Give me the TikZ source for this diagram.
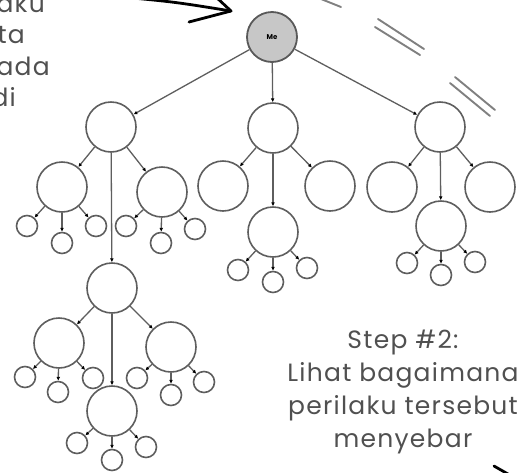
\documentclass[tikz,border=0pt]{standalone}
\usepackage{fontspec}
\setmainfont{Poppins}
\usetikzlibrary{arrows.meta,positioning}
\definecolor{inkgray}{HTML}{505050}
\definecolor{linegray}{HTML}{5E5E5E}

\begin{document}
\begin{tikzpicture}[
    x=1pt, y=-1pt,
    big/.style={
        circle,
        draw=linegray,
        line width=1.6pt,
        minimum size=50pt,
        inner sep=0pt,
        fill=white
    },
    leaf/.style={
        circle,
        draw=linegray,
        line width=1.6pt,
        minimum size=21pt,
        inner sep=0pt,
        fill=white
    },
    rootnode/.style={
        circle,
        draw=black!65,
        line width=1.8pt,
        minimum size=50pt,
        inner sep=0pt,
        fill=black!22,
        font=\bfseries\fontsize{7}{8}\selectfont
    },
    note/.style={
        font=\fontsize{25}{33}\selectfont\addfontfeature{LetterSpace=5},
        text=inkgray,
        align=center,
        inner sep=0pt
    },
    edge/.style={-{Latex[length=3.8pt,width=3.8pt,color=black]}, line width=1.3pt, draw=linegray},
    hatch/.style={line width=1.9pt, draw=black!50, line cap=round}
]
\useasboundingbox (0,0) rectangle (519,472);

% root and first level
\node[rootnode] (me) at (272,37) {Me};
\node[big] (left) at (111,127) {};
\node[big] (mid) at (273,128) {};
\node[big] (right) at (440,127) {};

% left branch
\node[big] (ll) at (62,187) {};
\node[big] (lr) at (162,192) {};
\node[big] (lm) at (112,288) {};
\node[big] (lml) at (59,343) {};
\node[big] (lmr) at (171,347) {};
\node[big] (lmm) at (112,411) {};

% middle branch
\node[big] (ml) at (223,186) {};
\node[big] (mm) at (273,232) {};
\node[big] (mr) at (330,186) {};

% right branch
\node[big] (rl) at (392,187) {};
\node[big] (rm) at (441,226) {};
\node[big] (rr) at (490,187) {};

% leaves
\node[leaf] (ll1) at (27,226) {};
\node[leaf] (ll2) at (62,243) {};
\node[leaf] (ll3) at (96,226) {};
\node[leaf] (lr1) at (126,226) {};
\node[leaf] (lr2) at (161,243) {};
\node[leaf] (lr3) at (195,229) {};
\node[leaf] (lml1) at (25,377) {};
\node[leaf] (lml2) at (58,392) {};
\node[leaf] (lml3) at (93,378) {};
\node[leaf] (lmr1) at (137,378) {};
\node[leaf] (lmr2) at (171,395) {};
\node[leaf] (lmr3) at (204,382) {};
\node[leaf] (lmm1) at (77,443) {};
\node[leaf] (lmm2) at (112,460) {};
\node[leaf] (lmm3) at (146,447) {};
\node[leaf] (mm1) at (238,270) {};
\node[leaf] (mm2) at (273,282) {};
\node[leaf] (mm3) at (307,268) {};
\node[leaf] (rm1) at (407,263) {};
\node[leaf] (rm2) at (441,275) {};
\node[leaf] (rm3) at (475,262) {};

\draw[edge] (me) -- (left);
\draw[edge] (me) -- (mid);
\draw[edge] (me) -- (right);
\draw[edge] (left) -- (ll);
\draw[edge] (left) -- (lm);
\draw[edge] (left) -- (lr);
\draw[edge] (lm) -- (lml);
\draw[edge] (lm) -- (lmm);
\draw[edge] (lm) -- (lmr);
\draw[edge] (mid) -- (ml);
\draw[edge] (mid) -- (mm);
\draw[edge] (mid) -- (mr);
\draw[edge] (right) -- (rl);
\draw[edge] (right) -- (rm);
\draw[edge] (right) -- (rr);
\foreach \p in {ll,lr,lml,lmr,lmm,mm,rm}
    \foreach \i in {1,2,3}
        \draw[edge] (\p) -- (\p\i);

% text
\node[note, anchor=base east] (t1) at (45,12) {aku};
\node[note, anchor=base east] (t2) at (25,43) {ta};
\node[note, anchor=base east] (t3) at (50,75) {pada};
\node[note, anchor=base east] (t4) at (16,106) {di};
\node[note] (step) at (403,392) {Step \#2:\\Lihat bagaimana\\perilaku tersebut\\menyebar};

% hand arrow and marks
\coordinate (arrstart) at (122,-3);
\coordinate (arrtip) at (231,11);
\draw[line width=2.8pt, line cap=round, line join=round] (arrstart) .. controls (175,2) .. (arrtip);
\draw[line width=2.8pt, line cap=round, line join=round] (216,-3) -- (arrtip) -- (189,22);
\draw[line width=2.8pt, line cap=round] (494,466) -- (508,474);
\draw[hatch] (321,-1) -- (341,7);
\draw[hatch] (378,19) -- (424,49);
\draw[hatch] (375,27) -- (420,55);
\draw[hatch] (455,77) -- (495,110);
\draw[hatch] (450,83) -- (490,116);
\end{tikzpicture}
\end{document}
